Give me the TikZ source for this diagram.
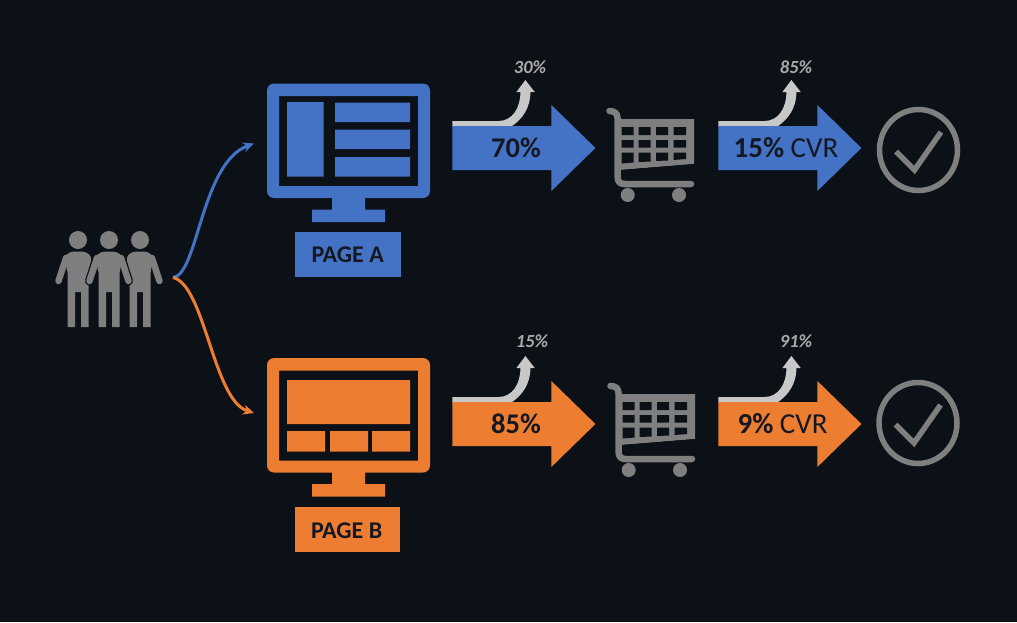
\documentclass[tikz,border=0pt]{standalone}
\usepackage{fontspec}
\setmainfont{Carlito}
\usetikzlibrary{arrows.meta}
\definecolor{bgc}{HTML}{0C1017}
\definecolor{bluec}{HTML}{4472C4}
\definecolor{orangec}{HTML}{ED7D31}
\definecolor{grayc}{HTML}{7F7F7F}
\definecolor{lightc}{HTML}{C8C8C8}
\definecolor{inkc}{HTML}{141822}
\tikzset{
  lab/.style={font=\bfseries\fontsize{24}{24}\selectfont,text=inkc,inner sep=0pt},
  big/.style={font=\fontsize{29}{29}\selectfont,text=inkc,inner sep=0pt},
  bigb/.style={font=\bfseries\fontsize{28.5}{29}\selectfont,text=inkc,inner sep=0pt},
  small/.style={font=\bfseries\itshape\fontsize{18.5}{18}\selectfont,text=lightc!85!black,inner sep=0pt},
  flow/.style={line width=3pt,-{Stealth[length=11pt,width=10pt]}},
  limb/.style={line width=6.5pt,line cap=round,line join=round},
}
\newcommand{\monitorshape}[1]{%
  \fill[#1,even odd rule,rounded corners=7pt] (267,0) rectangle (430,114.5)
     [sharp corners] (279,12.5) rectangle (418,102.5);
  \fill[#1] (332,114) rectangle (365,127) (312,126) rectangle (385,138.5);
}
\newcommand{\flowarrow}[1]{%
  \fill[#1] (0,-22) -- (99,-22) -- (99,-43) -- (143,0) -- (99,43) -- (99,22) -- (0,22) -- cycle;
}
\newcommand{\uparrowshape}{%
  \fill[lightc] (0,-27) -- (46,-27) .. controls (60,-27) and (68,-40) .. (68,-56)
    -- (64,-56) -- (73,-68) -- (82.3,-56) -- (78,-56)
    .. controls (78,-40) and (70,-29) .. (59,-21.5) -- (0,-21.5) -- cycle;
}
\newcommand{\cartshape}{%
  \draw[grayc,line width=6.5pt,line cap=round,line join=round]
     (609.5,111) .. controls (614,111) and (617.5,113) .. (617.5,118) -- (617.5,176)
     .. controls (617.5,182) and (620,184) .. (625,184) -- (691,184);
  \fill[grayc] (617,119) -- (694,119) -- (694,164) -- (620,170) -- (617,170) -- cycle;
  \fill[bgc] (621.5,127) rectangle (633.5,135) (638.7,127) rectangle (650.7,135)
     (656,127) rectangle (668,135) (673.5,127) rectangle (686,135)
     (621.5,140) rectangle (633.5,147.5) (638.7,140) rectangle (650.7,147.5)
     (656,140) rectangle (668,147.5) (673.5,140) rectangle (686,147.5);
  \fill[bgc] (621.5,152.5) -- (633.5,152.5) -- (633.5,162.5) -- (621.5,163.5) -- cycle
     (638.7,152.5) -- (650.7,152.5) -- (650.7,161.5) -- (638.7,162) -- cycle
     (656,152.5) -- (668,152.5) -- (668,160.5) -- (656,161) -- cycle
     (673.5,152.5) -- (686,152.5) -- (686,159) -- (673.5,160) -- cycle;
  \fill[bgc] (621,170) -- (694,164) -- (694,172) -- (621,178) -- cycle;
  \fill[grayc] (627.7,195) circle[radius=7pt] (679,195) circle[radius=7pt];
}
\newcommand{\checkshape}{%
  \draw[grayc,line width=5.5pt] (918.5,150) ellipse[x radius=39pt,y radius=40.5pt];
  \draw[grayc,line width=5.5pt] (896,151.5) -- (914.5,170) -- (941,132);
}
% body and head of one figure, centred on x = #1
\newcommand{\personbody}[1]{%
  \begin{scope}[shift={(#1,0)}]
    \fill[grayc] (0,240) circle[radius=9pt];
    \fill[grayc,rounded corners=4pt] (-10.5,272) -- (-14,257) -- (-8,251.5) -- (8,251.5) -- (14,257) -- (10.5,272) [sharp corners] -- (10.5,327) -- (3,327) -- (3,292) -- (-3,292) -- (-3,327) -- (-10.5,327) -- cycle;
  \end{scope}
}
% one arm from the shoulder, #1 = centre x, #2 = side (-1 or 1)
\newcommand{\personarm}[2]{%
  \draw[grayc,limb] ({#1+#2*12},258) -- ({#1+#2*19.5},281);
}
\begin{document}
\begin{tikzpicture}[x=1pt,y=-1pt]
\useasboundingbox (0,0) rectangle (1017,622);
\fill[bgc] (0,0) rectangle (1017,622);

% people
\personbody{78}\personarm{78}{-1}
\personbody{140}\personarm{140}{1}
\draw[bgc,line width=9pt,line cap=round] (97,258) -- (89.5,281);
\draw[bgc,line width=9pt,line cap=round] (121,258) -- (128.5,281);
\personbody{109}\personarm{109}{-1}\personarm{109}{1}

% connectors
\coordinate (users) at (173,277.5);
\coordinate (ta) at (254,143.5);
\coordinate (tb) at (254,413);
\draw[flow,bluec] (users) .. controls (198,275) and (201,163) .. (ta);
\draw[flow,orangec] (users) .. controls (205,285) and (213,400) .. (tb);

% Page A
\begin{scope}[shift={(0,83.5)}]\monitorshape{bluec}\end{scope}
\fill[bluec] (287,102) rectangle (323.5,176.5)
  (335,102.5) rectangle (410,122) (335,129.5) rectangle (410,149) (335,157) rectangle (410,176.5);
\fill[bluec] (295,232) rectangle (401,277);
\node[lab] (pagea) at (347.7,254.5) {PAGE A};

% Page B
\begin{scope}[shift={(0,358)}]\monitorshape{orangec}\end{scope}
\fill[orangec] (287,380) rectangle (410,424)
  (287,431) rectangle (325,451.5) (330,431) rectangle (368,451.5) (372,431) rectangle (410,451.5);
\fill[orangec] (294.5,507) rectangle (399.5,552);
\node[lab] (pageb) at (346.7,530.5) {PAGE B};

% Row A
\begin{scope}[shift={(452.4,148)}]\uparrowshape\flowarrow{bluec}\end{scope}
\begin{scope}[shift={(718.4,148)}]\uparrowshape\flowarrow{bluec}\end{scope}
\node[bigb] (a70) at (516,148) {70\%};
\node[big] (acvr) at (786,148) {\textbf{15\%} CVR};
\node[small] (a30) at (530,67) {30\%};
\node[small] (a85) at (796,67) {85\%};
\cartshape
\checkshape

% Row B
\begin{scope}[shift={(452.4,424)}]\uparrowshape\flowarrow{orangec}\end{scope}
\begin{scope}[shift={(718.4,424)}]\uparrowshape\flowarrow{orangec}\end{scope}
\node[bigb] (b85) at (516,424) {85\%};
\node[big] (bcvr) at (782.6,424) {\textbf{9\%} CVR};
\node[small] (b15) at (532,341) {15\%};
\node[small] (b91) at (796,341) {91\%};
\begin{scope}[shift={(1,275)}]\cartshape\end{scope}
\begin{scope}[shift={(-0.5,273)}]\checkshape\end{scope}
\end{tikzpicture}
\end{document}
